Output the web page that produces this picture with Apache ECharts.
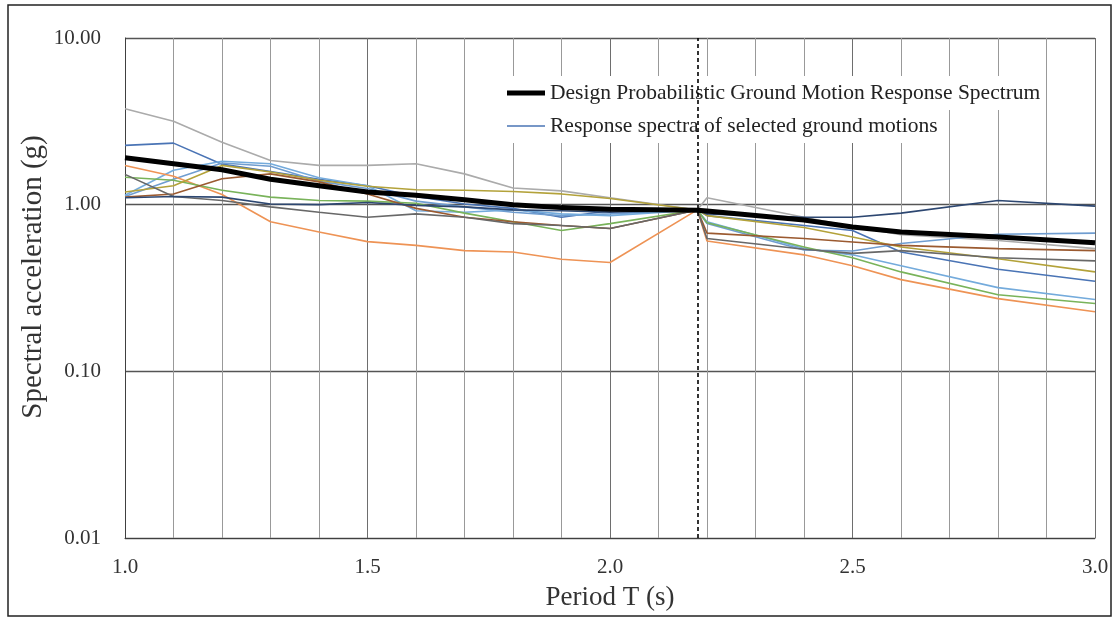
<!DOCTYPE html>
<html><head><meta charset="utf-8">
<script src="https://cdn.jsdelivr.net/npm/echarts@6/dist/echarts.min.js"></script>
<style>html,body{margin:0;padding:0;background:#fff}#c{width:1117px;height:621px}</style>
</head><body><div id="c"></div>
<script>
// Periods (s) at which spectra are sampled
const periods = [1.0,1.1,1.2,1.3,1.4,1.5,1.6,1.7,1.8,1.9,2.0,2.18,2.2,2.4,2.5,2.6,2.8,3.0];
// Scaling period (dashed line)
const TC = 2.18;
const designName = 'Design Probabilistic Ground Motion Response Spectrum';
const gmName = 'Response spectra of selected ground motions';
// Spectral accelerations (g)
const design   = [1.91,1.76,1.62,1.42,1.30,1.19,1.14,1.07,1.00,0.96,0.94,0.925,0.915,0.81,0.735,0.685,0.64,0.59];
const gmGray   = [3.76,3.17,2.37,1.84,1.72,1.72,1.76,1.53,1.26,1.21,1.10,0.93,1.10,0.84,0.74,0.66,0.61,0.545];
const gmBlue   = [2.27,2.34,1.75,1.58,1.42,1.30,1.12,1.01,0.95,0.84,0.92,0.93,0.86,0.75,0.70,0.52,0.41,0.347];
const gmSteel  = [1.12,1.42,1.78,1.70,1.38,1.25,1.05,0.97,0.90,0.86,0.88,0.93,0.77,0.535,0.527,0.585,0.665,0.675];
const gmLight  = [1.14,1.61,1.82,1.76,1.45,1.30,0.92,0.90,0.93,0.88,0.86,0.93,0.79,0.545,0.50,0.43,0.318,0.27];
const gmOrange = [1.72,1.48,1.15,0.79,0.685,0.60,0.57,0.53,0.52,0.47,0.45,0.93,0.605,0.50,0.43,0.355,0.273,0.228];
const gmGreen  = [1.46,1.40,1.22,1.11,1.06,1.05,1.02,0.89,0.79,0.70,0.77,0.93,0.78,0.557,0.48,0.395,0.288,0.255];
const gmOlive  = [1.19,1.30,1.72,1.57,1.40,1.29,1.23,1.22,1.20,1.16,1.09,0.93,0.86,0.73,0.64,0.557,0.474,0.395];
const gmBrown  = [1.11,1.16,1.43,1.53,1.37,1.16,0.95,0.84,0.79,0.75,0.72,0.93,0.675,0.626,0.597,0.57,0.545,0.53];
const gmDkGray = [1.52,1.12,1.06,0.97,0.90,0.84,0.88,0.84,0.77,0.75,0.72,0.93,0.626,0.54,0.51,0.53,0.48,0.46];
const gmDkBlue = [1.10,1.12,1.11,1.01,1.00,1.03,0.99,0.97,0.93,0.92,0.90,0.93,0.88,0.84,0.84,0.89,1.06,0.98];

const FONT = 'Liberation Serif';
const pair = arr => periods.map((p, i) => [p, arr[i]]);
const thin = (name, arr, color) => ({
  name, type: 'line', data: pair(arr), symbol: 'none', showSymbol: false,
  lineStyle: { color, width: 1.6 }, itemStyle: { color }, z: 2
});

const series = [
  thin('GM gray', gmGray, '#ababab'),
  thin(gmName, gmBlue, '#4a74b5'),
  thin('GM steel', gmSteel, '#6f9dd0'),
  thin('GM light', gmLight, '#74abdc'),
  thin('GM orange', gmOrange, '#ee9355'),
  thin('GM green', gmGreen, '#79b35a'),
  thin('GM olive', gmOlive, '#b3a23a'),
  thin('GM brown', gmBrown, '#9b5a30'),
  thin('GM dkgray', gmDkGray, '#686868'),
  thin('GM dkblue', gmDkBlue, '#2d4771'),
  {
    name: designName, type: 'line', data: pair(design), symbol: 'none', showSymbol: false,
    lineStyle: { color: '#000', width: 5 }, itemStyle: { color: '#000' }, z: 3,
    markLine: {
      silent: true, symbol: ['none', 'none'], label: { show: false },
      lineStyle: { color: '#000', type: [4, 3], width: 1.6 },
      data: [{ xAxis: TC }]
    }
  }
];

const legendBase = {
  orient: 'horizontal', left: 503, itemWidth: 38, itemGap: 0, icon: 'rect',
  backgroundColor: '#fff', padding: [4, 4], selectedMode: false,
  textStyle: { fontFamily: FONT, fontSize: 21.5, color: '#222', lineHeight: 26 }
};

const chart = echarts.init(document.getElementById('c'));
chart.setOption({
  animation: false,
  backgroundColor: '#fff',
  grid: { left: 125, right: 22, top: 38, bottom: 83 },
  legend: [
    Object.assign({}, legendBase, { top: 76, itemHeight: 5, data: [designName] }),
    Object.assign({}, legendBase, { top: 109, itemHeight: 1.6, data: [gmName] })
  ],
  xAxis: {
    type: 'value', min: 1, max: 3, interval: 0.5,
    axisLine: { show: true, lineStyle: { color: '#404040', width: 1 } },
    axisTick: { show: false },
    axisLabel: { formatter: v => v.toFixed(1), fontFamily: FONT, fontSize: 21, color: '#333', margin: 19 },
    splitLine: { show: true, lineStyle: { color: '#6e6e6e', width: 1 } },
    minorTick: { show: false, splitNumber: 5 },
    minorSplitLine: { show: true, lineStyle: { color: '#999', width: 1 } },
    name: 'Period T (s)', nameLocation: 'middle', nameGap: 46, nameMoveOverlap: false,
    nameTextStyle: { fontFamily: FONT, fontSize: 27, color: '#333' }
  },
  yAxis: {
    type: 'log', logBase: 10, min: 0.01, max: 10,
    axisLine: { show: true, lineStyle: { color: '#404040', width: 1 } },
    axisTick: { show: false },
    axisLabel: { formatter: v => Number(v).toFixed(2), fontFamily: FONT, fontSize: 21, color: '#333', margin: 24 },
    splitLine: { show: true, lineStyle: { color: '#555', width: 1.3 } },
    name: 'Spectral acceleration (g)', nameLocation: 'middle', nameGap: 77, nameRotate: 90, nameMoveOverlap: false,
    nameTextStyle: { fontFamily: FONT, fontSize: 29, color: '#333', padding: [0, 0, 0, 22] }
  },
  graphic: [{
    type: 'rect', shape: { x: 8, y: 5, width: 1103, height: 611 },
    style: { fill: 'none', stroke: '#222', lineWidth: 1.5 }, silent: true, z: 100
  }],
  series
});
</script></body></html>
